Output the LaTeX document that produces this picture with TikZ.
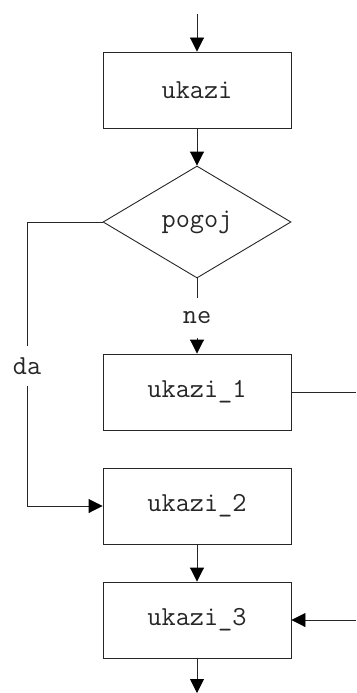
\documentclass[tikz,border=0pt]{standalone}
\usepackage{fontspec}
\usetikzlibrary{shapes.geometric,arrows.meta}
\begin{document}
\begin{tikzpicture}[x=1pt,y=-1pt,
  flow/.style={draw=black!85, line width=0.9pt},
  tip/.style={-{Triangle[length=14pt,width=14pt,color=black,fill=black]}},
  txt/.style={font=\ttfamily\fontsize{27.5}{27.5}\selectfont, text=black!85},
  stepbox/.style={flow, txt, rectangle, minimum width=188pt, minimum height=76pt,
    inner sep=0pt},
  decide/.style={flow, txt, diamond, minimum width=188pt, minimum height=112pt,
    inner sep=0pt},
  lbl/.style={txt, inner sep=0pt, minimum height=40pt}]
  \useasboundingbox (0,0) rectangle (356,693);

  % blocks
  \node[stepbox] (uk)  at (197,90)  {ukazi};
  \node[decide]  (pg)  at (197,222) {pogoj};
  \node[lbl]     (ne)  at (197,318) {ne};
  \node[stepbox] (uk1) at (197,392) {ukazi\_1};
  \node[lbl]     (da)  at (27,366)  {da};
  \node[stepbox] (uk2) at (197,506) {ukazi\_2};
  \node[stepbox] (uk3) at (197,620) {ukazi\_3};

  % loose ends
  \coordinate (in)   at (197,14);
  \coordinate (out)  at (197,693);
  \coordinate (r1)   at (356,392);
  \coordinate (r3)   at (356,620);
  \coordinate (left) at (27,222);

  % connectors
  \draw[flow,tip] (in) -- (uk.north);
  \draw[flow,tip] (uk.south) -- (pg.north);
  \draw[flow] (pg.south) -- (ne.north);
  \draw[flow,tip] (ne.south) -- (uk1.north);
  \draw[flow] (pg.west) -- (left) -- (da.north);
  \draw[flow,tip] (da.south) |- (uk2.west);
  \draw[flow] (uk1.east) -- (r1);
  \draw[flow,tip] (uk2.south) -- (uk3.north);
  \draw[flow,tip] (r3) -- (uk3.east);
  \draw[flow,tip] (uk3.south) -- (out);
\end{tikzpicture}
\end{document}
